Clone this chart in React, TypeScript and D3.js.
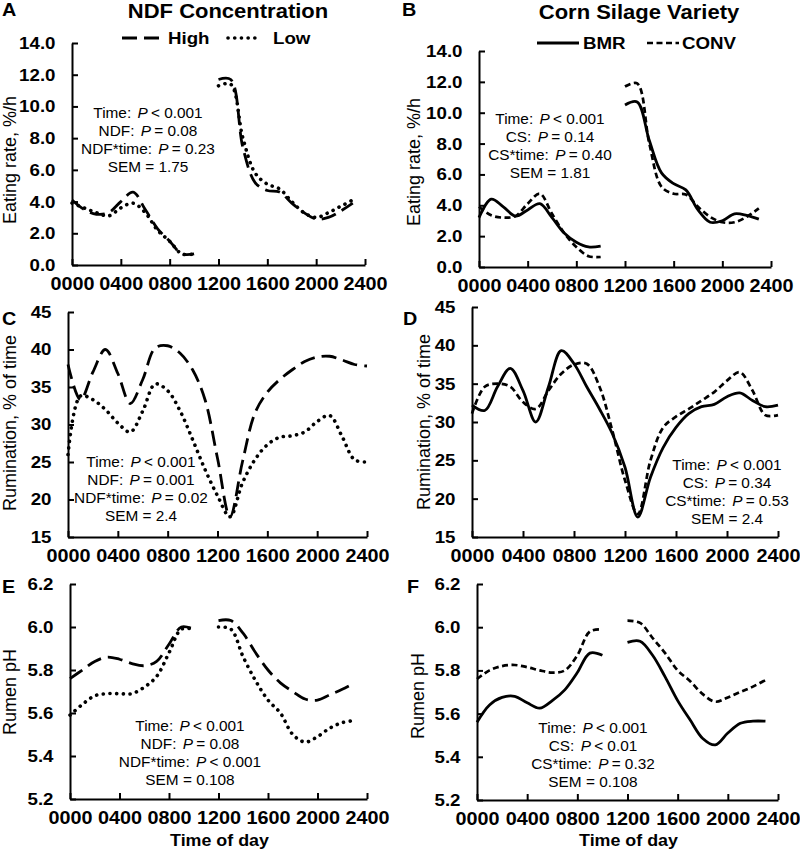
import React, { useEffect, useRef } from "react";
import * as d3 from "d3";

const FONT = "'Liberation Sans', Arial, Helvetica, sans-serif";

// time of day (hhmm), hourly; eating and pH have no 1100 reading
const hoursEat = [0, 100, 200, 300, 400, 500, 600, 700, 800, 900, 1000, 1100, 1200, 1300, 1400, 1500, 1600, 1700, 1800, 1900, 2000, 2100, 2200, 2300];
const hoursRum = [0, 100, 200, 300, 400, 500, 600, 700, 800, 900, 1000, 1100, 1200, 1300, 1400, 1500, 1600, 1700, 1800, 1900, 2000, 2100, 2200, 2300, 2400];
const timeTicks = [0, 400, 800, 1200, 1600, 2000, 2400];

const eatTicks = [0, 2, 4, 6, 8, 10, 12, 14];
const rumTicks = [15, 20, 25, 30, 35, 40, 45];
const phTicks = [5.2, 5.4, 5.6, 5.8, 6.0, 6.2];

// A - eating rate by NDF
const eatHigh = [4.1, 3.5, 3.2, 3.3, 4.0, 4.6, 3.5, 2.3, 1.5, 0.7, 0.7, null, 11.7, 11.7, 7.4, 5.2, 4.7, 4.6, 3.9, 3.3, 2.9, 3.0, 3.4, 3.9];
const eatLow = [3.9, 3.6, 3.3, 3.1, 3.6, 3.9, 3.3, 2.2, 1.5, 0.7, 0.7, null, 11.3, 11.4, 8.0, 5.8, 5.1, 4.8, 4.0, 3.3, 3.0, 3.3, 3.7, 4.1];
// B - eating rate by corn silage
const eatBmr = [3.2, 4.4, 3.9, 3.3, 3.7, 4.1, 3.2, 2.2, 1.6, 1.3, 1.35, null, 10.5, 10.7, 8.2, 6.1, 5.4, 5.0, 3.7, 2.9, 3.0, 3.45, 3.35, 3.1];
const eatConv = [3.9, 3.35, 3.2, 3.3, 4.1, 4.75, 3.45, 2.2, 1.3, 0.7, 0.65, null, 11.7, 11.9, 8.0, 5.2, 4.75, 4.7, 3.9, 3.25, 2.9, 2.9, 3.25, 3.8];
// C - rumination by NDF
const rumHigh = [38, 33.3, 37, 40, 36.8, 32.8, 36, 40.2, 40.5, 39.5, 37.3, 33.3, 25.5, 17.7, 25, 31.5, 34.3, 36, 37.3, 38.4, 39, 39.1, 38.6, 38, 37.8];
const rumLow = [26, 33.8, 33.3, 32, 30.2, 29, 31.8, 35.4, 34.5, 31.8, 28, 24, 20.5, 17.7, 22.2, 25.3, 27.3, 28.3, 28.5, 29, 30.4, 31.2, 28.4, 25.3, 25];
// D - rumination by corn silage
const rumBmr = [32.2, 31.5, 34.6, 37, 34.1, 30, 34.6, 39.3, 37.6, 34.6, 31.7, 28.5, 24.1, 17.6, 22.8, 26.7, 29.3, 31.1, 32, 32.3, 33.3, 33.8, 32.8, 32, 32.2];
const rumConv = [31.1, 34.6, 35, 34.6, 32.6, 31.7, 34.1, 36.3, 37.5, 37.6, 34.6, 28.9, 22.4, 18, 25, 29.3, 30.7, 31.7, 32.8, 33.9, 35.4, 36.5, 34.1, 30.9, 30.9];
// E - rumen pH by NDF
const phHigh = [5.76, 5.8, 5.84, 5.86, 5.85, 5.83, 5.82, 5.84, 5.92, 6.0, 5.99, null, 6.03, 6.03, 5.97, 5.88, 5.8, 5.74, 5.7, 5.665, 5.66, 5.685, 5.71, 5.74];
const phLow = [5.59, 5.64, 5.68, 5.69, 5.69, 5.69, 5.72, 5.77, 5.88, 5.99, 5.99, null, 6.0, 5.99, 5.86, 5.75, 5.66, 5.6, 5.5, 5.465, 5.49, 5.53, 5.555, 5.565];
// F - rumen pH by corn silage
const phBmr = [5.56, 5.64, 5.675, 5.68, 5.65, 5.625, 5.66, 5.71, 5.79, 5.88, 5.87, null, 5.93, 5.935, 5.87, 5.77, 5.66, 5.57, 5.485, 5.455, 5.51, 5.555, 5.565, 5.565];
const phConv = [5.76, 5.8, 5.82, 5.825, 5.815, 5.8, 5.79, 5.8, 5.87, 5.98, 5.99, null, 6.03, 6.02, 5.95, 5.88, 5.8, 5.75, 5.69, 5.655, 5.675, 5.7, 5.725, 5.755];

// "|" marks where the italic P goes
const statsA = ["Time:|< 0.001", "NDF:|= 0.08", "NDF*time:|= 0.23", "SEM = 1.75"];
const statsB = ["Time:|< 0.001", "CS:|= 0.14", "CS*time:|= 0.40", "SEM = 1.81"];
const statsC = ["Time:|< 0.001", "NDF:|= 0.001", "NDF*time:|= 0.02", "SEM = 2.4"];
const statsD = ["Time:|< 0.001", "CS:|= 0.34", "CS*time:|= 0.53", "SEM = 2.4"];
const statsE = ["Time:|< 0.001", "NDF:|= 0.08", "NDF*time:|< 0.001", "SEM = 0.108"];
const statsF = ["Time:|< 0.001", "CS:|< 0.01", "CS*time:|= 0.32", "SEM = 0.108"];

const lineStyles = {
  long: { width: 2.8, dash: "15,7", cap: "butt" },
  dot: { width: 3.6, dash: "0.1,6.6", cap: "round" },
  solid: { width: 2.8, dash: null, cap: "butt" },
  dash: { width: 2.7, dash: "6,3.5", cap: "butt" },
};

const panels = [
  { letter: "A", lx: 2, ly: 16, x0: 72, x1: 365, yTop: 43, yBot: 265, domain: [0, 14], ticks: eatTicks, fmt: ".1f",
    yTitle: "Eating rate, %/h", tx: 16, ty: 160, hours: hoursEat,
    series: [{ v: eatHigh, s: "long" }, { v: eatLow, s: "dot" }], stats: statsA, sx: 148, sy: 118, xTitle: false },
  { letter: "B", lx: 402, ly: 16, x0: 479, x1: 771, yTop: 51, yBot: 267, domain: [0, 14], ticks: eatTicks, fmt: ".1f",
    yTitle: "Eating rate, %/h", tx: 420, ty: 162, hours: hoursEat,
    series: [{ v: eatBmr, s: "solid" }, { v: eatConv, s: "dash" }], stats: statsB, sx: 550, sy: 124, xTitle: false },
  { letter: "C", lx: 2, ly: 325, x0: 68, x1: 367, yTop: 312, yBot: 537, domain: [15, 45], ticks: rumTicks, fmt: "d",
    yTitle: "Rumination, % of time", tx: 16, ty: 423, hours: hoursRum,
    series: [{ v: rumHigh, s: "long" }, { v: rumLow, s: "dot" }], stats: statsC, sx: 141, sy: 467, xTitle: false },
  { letter: "D", lx: 403, ly: 325, x0: 472, x1: 778, yTop: 307, yBot: 537, domain: [15, 45], ticks: rumTicks, fmt: "d",
    yTitle: "Rumination, % of time", tx: 430, ty: 422, hours: hoursRum,
    series: [{ v: rumBmr, s: "solid" }, { v: rumConv, s: "dash" }], stats: statsD, sx: 727, sy: 470, xTitle: false },
  { letter: "E", lx: 2, ly: 593, x0: 70, x1: 367, yTop: 584, yBot: 799, domain: [5.2, 6.2], ticks: phTicks, fmt: ".1f",
    yTitle: "Rumen pH", tx: 16, ty: 692, hours: hoursEat,
    series: [{ v: phHigh, s: "long" }, { v: phLow, s: "dot" }], stats: statsE, sx: 190, sy: 731, xTitle: true },
  { letter: "F", lx: 407, ly: 593, x0: 477, x1: 778, yTop: 584, yBot: 800, domain: [5.2, 6.2], ticks: phTicks, fmt: ".1f",
    yTitle: "Rumen pH", tx: 424, ty: 696, hours: hoursEat,
    series: [{ v: phBmr, s: "solid" }, { v: phConv, s: "dash" }], stats: statsF, sx: 593, sy: 733, xTitle: true },
];

// text helper - the figure's lettering is a bit wider than Arial, so stretch it
function addText(g, x, y, str, size, bold, anchor = "start", stretch = 1.1) {
  return g
    .append("text")
    .attr("transform", `translate(${x},${y}) scale(${stretch},1)`)
    .attr("font-family", FONT)
    .attr("font-size", size)
    .attr("font-weight", bold ? "bold" : "normal")
    .attr("text-anchor", anchor)
    .attr("fill", "#000")
    .text(str);
}

function styleLine(sel, key) {
  const st = lineStyles[key];
  sel
    .attr("fill", "none")
    .attr("stroke", "#000")
    .attr("stroke-width", st.width)
    .attr("stroke-linecap", st.cap)
    .attr("stroke-dasharray", st.dash);
  return sel;
}

export default function App() {
  const svgRef = useRef(null);

  useEffect(() => {
    const svg = d3.select(svgRef.current);
    svg.selectAll("*").remove();

    // column titles + legends
    addText(svg, 228, 18, "NDF Concentration", 20, true, "middle");
    addText(svg, 639, 19, "Corn Silage Variety", 20, true, "middle");

    styleLine(svg.append("line").attr("x1", 122).attr("x2", 164).attr("y1", 38).attr("y2", 38), "long");
    addText(svg, 168, 44, "High", 17, true);
    styleLine(svg.append("line").attr("x1", 228).attr("x2", 258).attr("y1", 38).attr("y2", 38), "dot");
    addText(svg, 273, 44, "Low", 17, true);

    styleLine(svg.append("line").attr("x1", 537).attr("x2", 579).attr("y1", 43).attr("y2", 43), "solid");
    addText(svg, 583, 49, "BMR", 17, true);
    styleLine(svg.append("line").attr("x1", 647).attr("x2", 679).attr("y1", 43).attr("y2", 43), "dash");
    addText(svg, 682, 49, "CONV", 17, true);

    panels.forEach((p) => {
      const g = svg.append("g");
      const x = d3.scaleLinear().domain([0, 2400]).range([p.x0, p.x1]);
      const y = d3.scaleLinear().domain(p.domain).range([p.yBot, p.yTop]);

      const ya = g
        .append("g")
        .attr("transform", `translate(${p.x0},0)`)
        .call(
          d3.axisLeft(y).tickValues(p.ticks).tickSize(-6).tickSizeOuter(0).tickPadding(15).tickFormat(d3.format(p.fmt))
        );
      const xa = g
        .append("g")
        .attr("transform", `translate(0,${p.yBot})`)
        .call(
          d3.axisBottom(x).tickValues(timeTicks).tickSize(-6).tickSizeOuter(0).tickPadding(12).tickFormat(d3.format("04d"))
        );
      [ya, xa].forEach((a) => {
        a.attr("font-family", FONT).attr("font-size", 18).attr("font-weight", "bold");
        a.select(".domain").attr("stroke-width", 2);
        a.selectAll(".tick line").attr("stroke-width", 2);
        a.selectAll(".tick text").attr("transform", "scale(1.1,1)");
      });
      ya.attr("font-size", 17);

      // series
      const line = d3
        .line()
        .defined((v) => v != null)
        .x((_, i) => x(p.hours[i]))
        .y((v) => y(v))
        .curve(d3.curveCatmullRom.alpha(0.5));
      p.series.forEach((s) => {
        styleLine(g.append("path").attr("d", line(s.v)), s.s);
      });

      // panel letter, axis titles
      addText(g, p.lx, p.ly, p.letter, 18, true);
      g.append("text")
        .attr("transform", `translate(${p.tx},${p.ty}) rotate(-90)`)
        .attr("font-family", FONT)
        .attr("font-size", 18)
        .attr("text-anchor", "middle")
        .text(p.yTitle);
      if (p.xTitle) addText(g, (p.x0 + p.x1) / 2 + 1, 846, "Time of day", 17, true, "middle", 1.05);

      // statistics block
      p.stats.forEach((s, i) => {
        const t = g
          .append("text")
          .attr("transform", `translate(${p.sx},${p.sy + i * 18}) scale(1.06,1)`)
          .attr("font-family", FONT)
          .attr("font-size", 14.5)
          .attr("text-anchor", "middle");
        const parts = s.split("|");
        t.append("tspan").text(parts[0]);
        if (parts.length > 1) {
          t.append("tspan").attr("dx", 6).attr("font-style", "italic").text("P");
          t.append("tspan").attr("dx", 3).text(parts[1]);
        }
      });
    });
  }, []);

  return (
    <svg
      ref={svgRef}
      width={800}
      height={857}
      style={{ position: "absolute", left: 0, top: 0, background: "#fff" }}
    />
  );
}
